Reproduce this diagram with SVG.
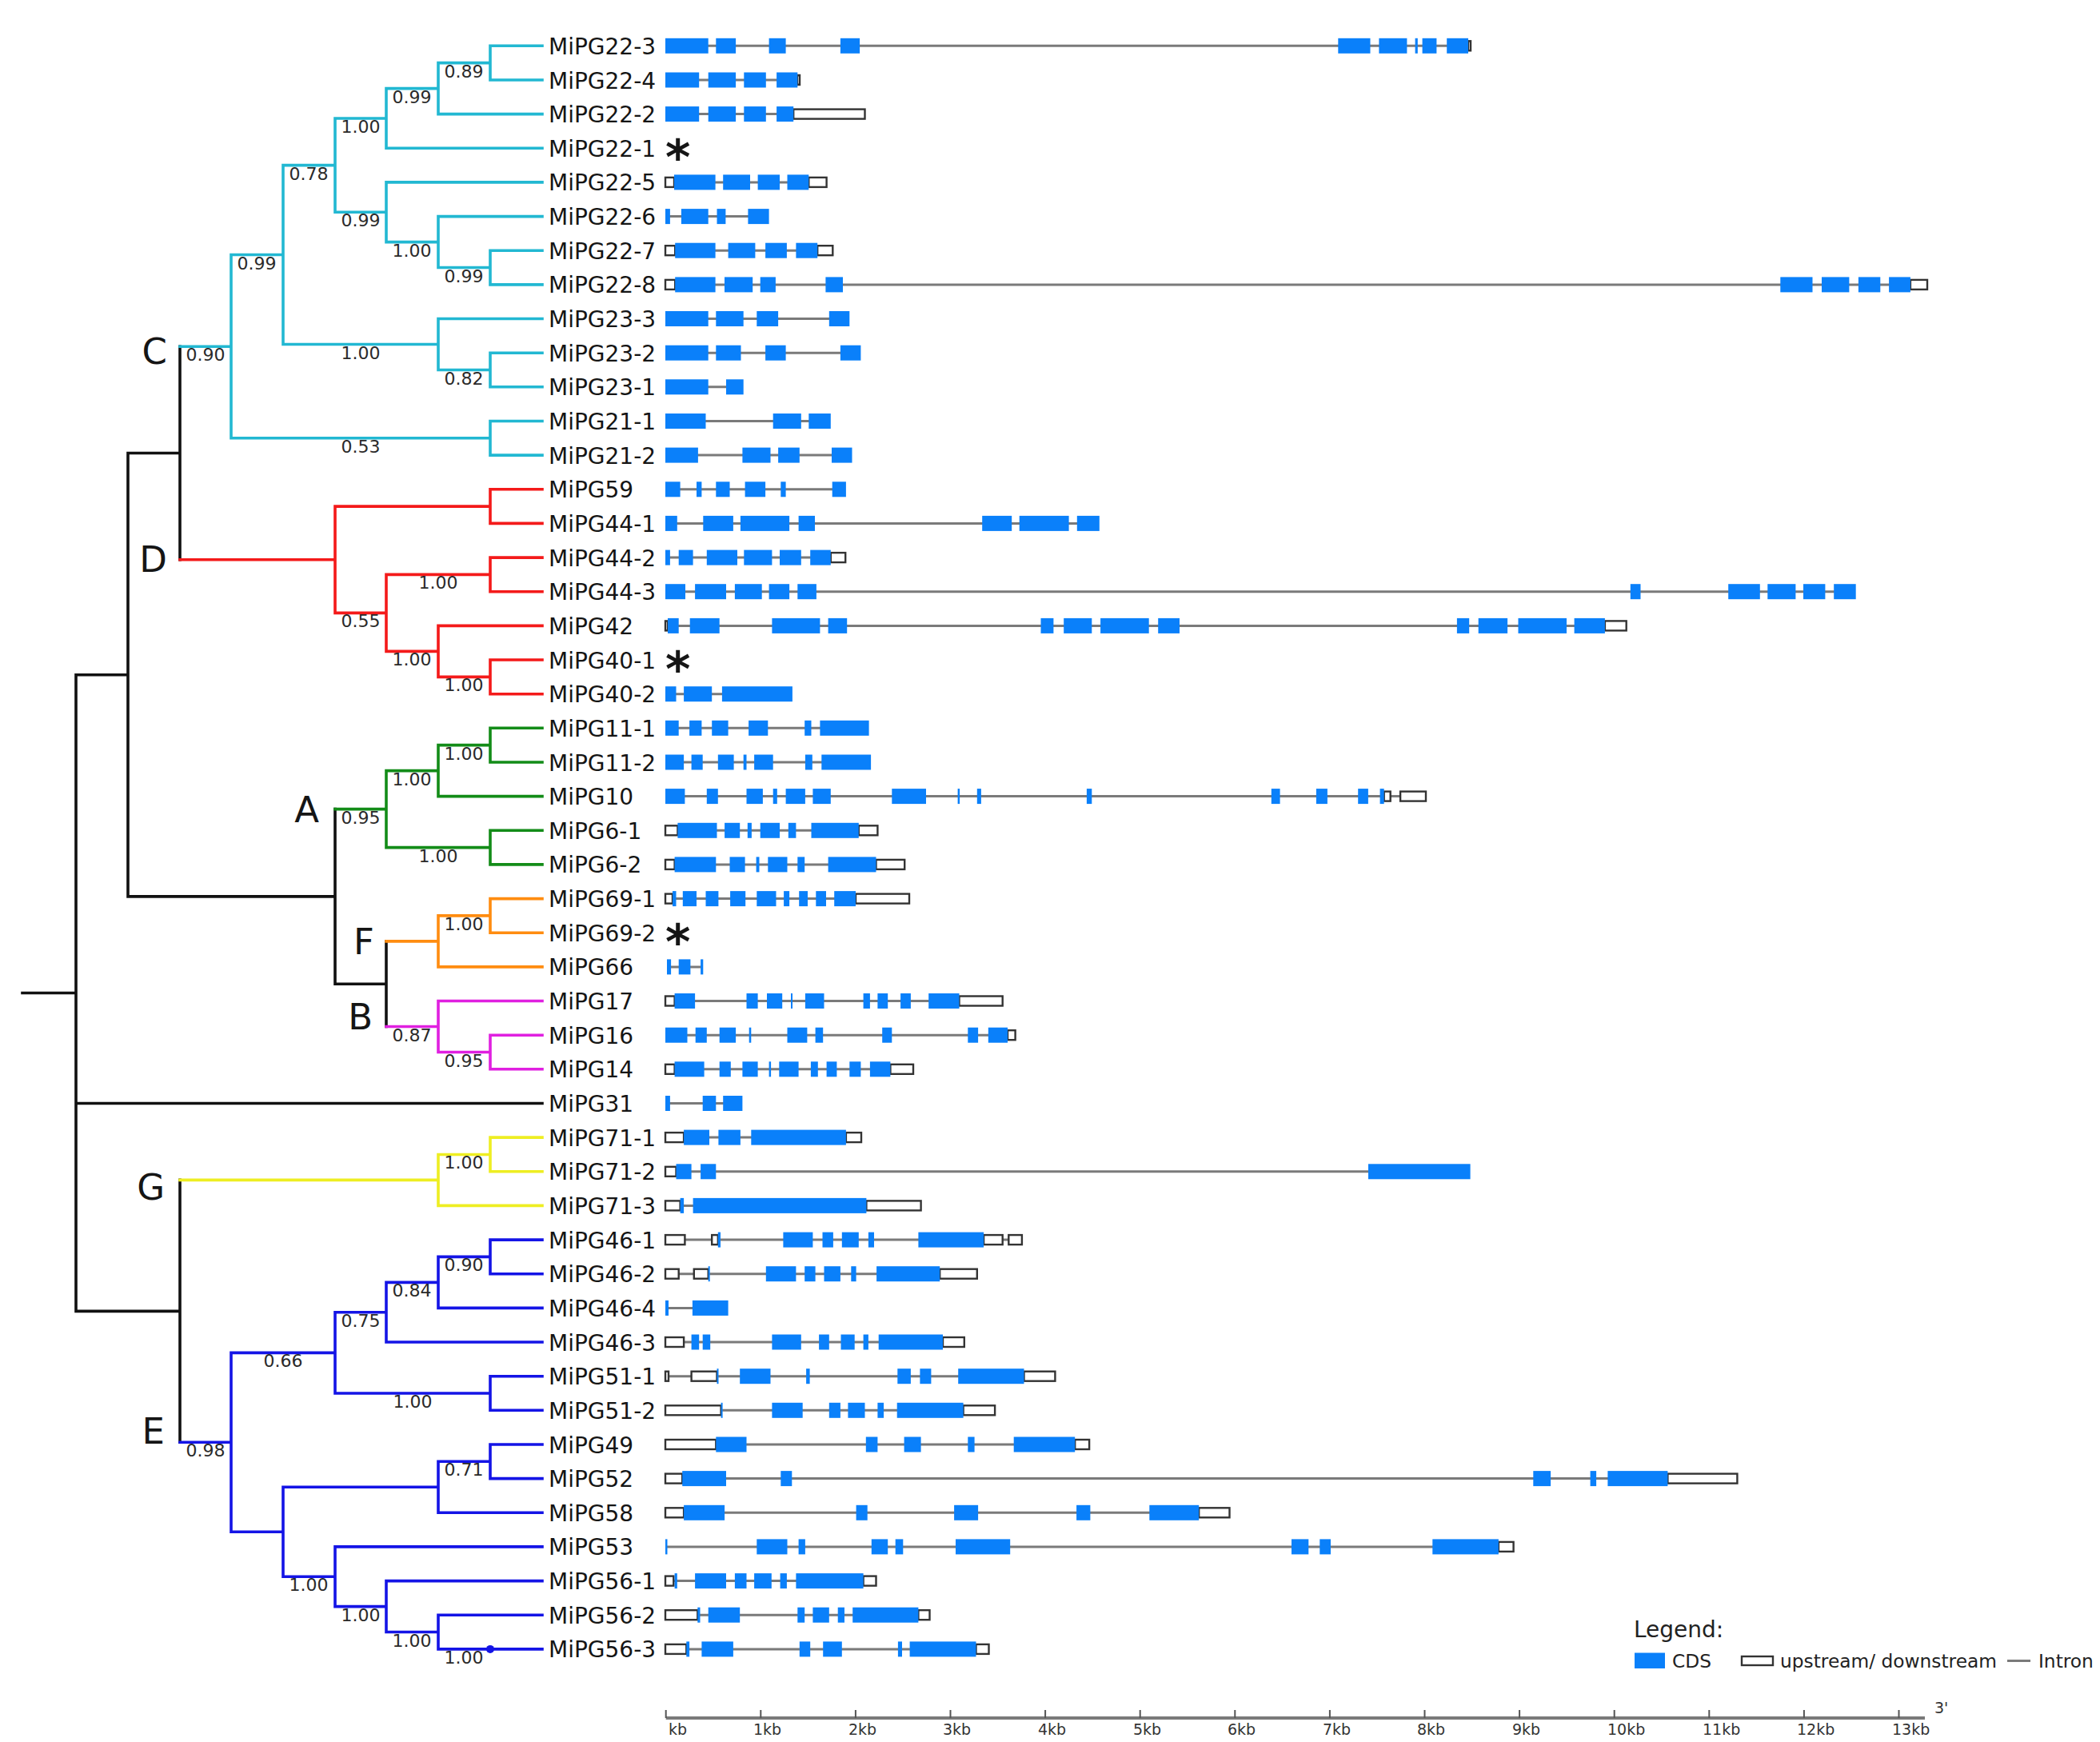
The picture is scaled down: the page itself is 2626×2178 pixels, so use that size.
<svg xmlns="http://www.w3.org/2000/svg" width="2626" height="2178" viewBox="0 0 2626 2178">
<style>
text{font-family:'DejaVu Sans',Verdana,sans-serif;fill:#151515}
.lf{font-size:28px}
.bs{font-size:22px;text-anchor:middle;fill:#2a2a2a}
.cl{font-size:45px;text-anchor:end}
.ast{font-size:60px;font-weight:bold}
.ax{font-size:19px;fill:#333}
.lg{font-size:23.3px;fill:#222}
.t{fill:none;stroke-width:3.6;stroke-linecap:square}
.k{stroke:#111}.cy{stroke:#22B8D2}.rd{stroke:#F41A1A}.gr{stroke:#138C18}.or{stroke:#FF8C10}.mg{stroke:#E020E0}.ye{stroke:#EEEE22}.bl{stroke:#1414E6}
.i{stroke:#7a7a7a;stroke-width:3}
.c{fill:#0A80FA}
.u{fill:#fff;stroke:#333;stroke-width:2.4}
</style>
<rect width="2626" height="2178" fill="#fff"/>

<g id="connectors">
<path class="t k" d="M28 1241.5H95M95 843.7V1639.35M95 843.7H160M160 566.5V1120.9M160 566.5H225M225 433.2V699.75M160 1120.9H419M419 1011.6V1230.2M419 1230.2H483M483 1176.9V1283.5M95 1379.5H678M95 1639.35H225M225 1475.4V1803.3"/>
<path class="t cy" d="M225 433.2H289M289 318.55V547.8M289 318.55H354M354 206.6V430.5M354 206.6H419M419 147.95V265.25M419 147.95H483M483 110.6V185.3M483 110.6H548M548 78.65V142.6M548 78.65H613M613 57.3V100M613 57.3H678M613 100H678M548 142.6H678M483 185.3H678M419 265.25H483M483 227.9V302.6M483 227.9H678M483 302.6H548M548 270.6V334.55M548 270.6H678M548 334.55H613M613 313.2V355.9M613 313.2H678M613 355.9H678M354 430.5H548M548 398.5V462.5M548 398.5H678M548 462.5H613M613 441.2V483.8M613 441.2H678M613 483.8H678M289 547.8H613M613 526.5V569.1M613 526.5H678M613 569.1H678"/>
<path class="t rd" d="M225 699.75H419M419 633.1V766.4M419 633.1H613M613 611.8V654.4M613 611.8H678M613 654.4H678M419 766.4H483M483 718.4V814.4M483 718.4H613M613 697.1V739.7M613 697.1H678M613 739.7H678M483 814.4H548M548 782.4V846.35M548 782.4H678M548 846.35H613M613 825V867.7M613 825H678M613 867.7H678"/>
<path class="t gr" d="M419 1011.6H483M483 963.6V1059.6M483 963.6H548M548 931.65V995.6M548 931.65H613M613 910.3V953M613 910.3H678M613 953H678M548 995.6H678M483 1059.6H613M613 1038.3V1080.9M613 1038.3H678M613 1080.9H678"/>
<path class="t or" d="M483 1176.9H548M548 1144.9V1208.9M548 1144.9H613M613 1123.6V1166.2M613 1123.6H678M613 1166.2H678M548 1208.9H678"/>
<path class="t mg" d="M483 1283.5H548M548 1251.5V1315.5M548 1251.5H678M548 1315.5H613M613 1294.2V1336.8M613 1294.2H678M613 1336.8H678"/>
<path class="t ye" d="M225 1475.4H548M548 1443.45V1507.4M548 1443.45H613M613 1422.1V1464.8M613 1422.1H678M613 1464.8H678M548 1507.4H678"/>
<path class="t bl" d="M225 1803.3H289M289 1691.35V1915.3M289 1691.35H419M419 1640.7V1742M419 1640.7H483M483 1603.4V1678M483 1603.4H548M548 1571.4V1635.4M548 1571.4H613M613 1550.1V1592.7M613 1550.1H678M613 1592.7H678M548 1635.4H678M483 1678H678M419 1742H613M613 1720.7V1763.3M613 1720.7H678M613 1763.3H678M289 1915.3H354M354 1859.3V1971.25M354 1859.3H548M548 1827.3V1891.3M548 1827.3H613M613 1806V1848.6M613 1806H678M613 1848.6H678M548 1891.3H678M354 1971.25H419M419 1933.9V2008.6M419 1933.9H678M419 2008.6H483M483 1976.6V2040.55M483 1976.6H678M483 2040.55H548M548 2019.2V2061.9M548 2019.2H678M548 2061.9H678"/>
<circle cx="613" cy="2061.9" r="5" fill="#1414E6"/>
</g>

<g id="support-values">
<text class="bs" x="580" y="96.6">0.89</text>
<text class="bs" x="515" y="128.6">0.99</text>
<text class="bs" x="451" y="166">1.00</text>
<text class="bs" x="386" y="224.6">0.78</text>
<text class="bs" x="451" y="283.2">0.99</text>
<text class="bs" x="515" y="320.6">1.00</text>
<text class="bs" x="580" y="352.5">0.99</text>
<text class="bs" x="321" y="336.5">0.99</text>
<text class="bs" x="451" y="448.5">1.00</text>
<text class="bs" x="580" y="480.5">0.82</text>
<text class="bs" x="451" y="565.8">0.53</text>
<text class="bs" x="257" y="451.2">0.90</text>
<text class="bs" x="548" y="736.4">1.00</text>
<text class="bs" x="451" y="784.4">0.55</text>
<text class="bs" x="515" y="832.4">1.00</text>
<text class="bs" x="580" y="864.3">1.00</text>
<text class="bs" x="580" y="949.6">1.00</text>
<text class="bs" x="515" y="981.6">1.00</text>
<text class="bs" x="548" y="1077.6">1.00</text>
<text class="bs" x="451" y="1029.6">0.95</text>
<text class="bs" x="580" y="1162.9">1.00</text>
<text class="bs" x="515" y="1301.5">0.87</text>
<text class="bs" x="580" y="1333.5">0.95</text>
<text class="bs" x="580" y="1461.4">1.00</text>
<text class="bs" x="580" y="1589.4">0.90</text>
<text class="bs" x="515" y="1621.4">0.84</text>
<text class="bs" x="451" y="1658.7">0.75</text>
<text class="bs" x="516" y="1760">1.00</text>
<text class="bs" x="354" y="1709.3">0.66</text>
<text class="bs" x="580" y="1845.3">0.71</text>
<text class="bs" x="257" y="1821.3">0.98</text>
<text class="bs" x="386" y="1989.2">1.00</text>
<text class="bs" x="451" y="2026.6">1.00</text>
<text class="bs" x="515" y="2058.5">1.00</text>
<text class="bs" x="580" y="2079.9">1.00</text>
</g>

<g id="clade-labels">
<g id="clade-C"><text class="cl" x="209" y="455">C</text></g>
<g id="clade-D"><text class="cl" x="209" y="715">D</text></g>
<g id="clade-A"><text class="cl" x="399" y="1028">A</text></g>
<g id="clade-F"><text class="cl" x="468" y="1193">F</text></g>
<g id="clade-B"><text class="cl" x="466" y="1287">B</text></g>
<g id="clade-G"><text class="cl" x="206" y="1500">G</text></g>
<g id="clade-E"><text class="cl" x="206" y="1805">E</text></g>
</g>

<g id="leaves">
<g id="MiPG22-3" transform="translate(0,57.3)"><text class="lf" x="686" y="10.5">MiPG22-3</text><line class="i" x1="832" x2="1838" y1="0" y2="0"/><rect class="u" x="1836" y="-6" width="3" height="12"/><rect class="c" x="832" y="-9.5" width="53.7" height="19"/><rect class="c" x="895.3" y="-9.5" width="24.8" height="19"/><rect class="c" x="961.6" y="-9.5" width="21" height="19"/><rect class="c" x="1050.9" y="-9.5" width="24.2" height="19"/><rect class="c" x="1673.3" y="-9.5" width="40.2" height="19"/><rect class="c" x="1724.4" y="-9.5" width="35" height="19"/><rect class="c" x="1769.6" y="-9.5" width="3.2" height="19"/><rect class="c" x="1778.6" y="-9.5" width="17.8" height="19"/><rect class="c" x="1809.2" y="-9.5" width="26.8" height="19"/></g>
<g id="MiPG22-4" transform="translate(0,100)"><text class="lf" x="686" y="10.5">MiPG22-4</text><line class="i" x1="832" x2="999" y1="0" y2="0"/><rect class="u" x="997" y="-6" width="3" height="12"/><rect class="c" x="832" y="-9.5" width="42.2" height="19"/><rect class="c" x="885.7" y="-9.5" width="34.4" height="19"/><rect class="c" x="930.3" y="-9.5" width="27.5" height="19"/><rect class="c" x="971.1" y="-9.5" width="26.2" height="19"/></g>
<g id="MiPG22-2" transform="translate(0,142.6)"><text class="lf" x="686" y="10.5">MiPG22-2</text><line class="i" x1="832" x2="1081" y1="0" y2="0"/><rect class="u" x="992.2" y="-6" width="89.3" height="12"/><rect class="c" x="832" y="-9.5" width="42.2" height="19"/><rect class="c" x="885.7" y="-9.5" width="34.4" height="19"/><rect class="c" x="930.3" y="-9.5" width="27.5" height="19"/><rect class="c" x="971.1" y="-9.5" width="21.1" height="19"/></g>
<g id="MiPG22-1" transform="translate(0,185.3)"><text class="lf" x="686" y="10.5">MiPG22-1</text><text class="ast" x="832" y="33">*</text></g>
<g id="MiPG22-5" transform="translate(0,227.9)"><text class="lf" x="686" y="10.5">MiPG22-5</text><line class="i" x1="832" x2="1033" y1="0" y2="0"/><rect class="u" x="832" y="-6" width="11" height="12"/><rect class="u" x="1011.3" y="-6" width="22.3" height="12"/><rect class="c" x="843" y="-9.5" width="51.6" height="19"/><rect class="c" x="904.2" y="-9.5" width="33.8" height="19"/><rect class="c" x="947.6" y="-9.5" width="27.4" height="19"/><rect class="c" x="984.5" y="-9.5" width="26.8" height="19"/></g>
<g id="MiPG22-6" transform="translate(0,270.6)"><text class="lf" x="686" y="10.5">MiPG22-6</text><line class="i" x1="832" x2="961" y1="0" y2="0"/><rect class="c" x="832" y="-9.5" width="5.9" height="19"/><rect class="c" x="851.9" y="-9.5" width="33.8" height="19"/><rect class="c" x="896.5" y="-9.5" width="10.9" height="19"/><rect class="c" x="935.4" y="-9.5" width="26.2" height="19"/></g>
<g id="MiPG22-7" transform="translate(0,313.2)"><text class="lf" x="686" y="10.5">MiPG22-7</text><line class="i" x1="832" x2="1041" y1="0" y2="0"/><rect class="u" x="832" y="-6" width="12.2" height="12"/><rect class="u" x="1022.2" y="-6" width="19.1" height="12"/><rect class="c" x="844.2" y="-9.5" width="50.4" height="19"/><rect class="c" x="910.6" y="-9.5" width="33.8" height="19"/><rect class="c" x="957.1" y="-9.5" width="26.8" height="19"/><rect class="c" x="995.4" y="-9.5" width="26.8" height="19"/></g>
<g id="MiPG22-8" transform="translate(0,355.9)"><text class="lf" x="686" y="10.5">MiPG22-8</text><line class="i" x1="832" x2="2410" y1="0" y2="0"/><rect class="u" x="832" y="-6" width="12.2" height="12"/><rect class="u" x="2388.9" y="-6" width="21.1" height="12"/><rect class="c" x="844.2" y="-9.5" width="50.4" height="19"/><rect class="c" x="906" y="-9.5" width="35.2" height="19"/><rect class="c" x="950.7" y="-9.5" width="19.2" height="19"/><rect class="c" x="1032.4" y="-9.5" width="21.6" height="19"/><rect class="c" x="2226.3" y="-9.5" width="40.2" height="19"/><rect class="c" x="2278" y="-9.5" width="34.4" height="19"/><rect class="c" x="2323.9" y="-9.5" width="27.4" height="19"/><rect class="c" x="2362.1" y="-9.5" width="26.8" height="19"/></g>
<g id="MiPG23-3" transform="translate(0,398.5)"><text class="lf" x="686" y="10.5">MiPG23-3</text><line class="i" x1="832" x2="1062" y1="0" y2="0"/><rect class="c" x="832" y="-9.5" width="53.7" height="19"/><rect class="c" x="895.3" y="-9.5" width="34.4" height="19"/><rect class="c" x="946.3" y="-9.5" width="26.8" height="19"/><rect class="c" x="1036.8" y="-9.5" width="25.5" height="19"/></g>
<g id="MiPG23-2" transform="translate(0,441.2)"><text class="lf" x="686" y="10.5">MiPG23-2</text><line class="i" x1="832" x2="1076" y1="0" y2="0"/><rect class="c" x="832" y="-9.5" width="53.7" height="19"/><rect class="c" x="895.3" y="-9.5" width="31.2" height="19"/><rect class="c" x="957.1" y="-9.5" width="25.5" height="19"/><rect class="c" x="1050.9" y="-9.5" width="25.5" height="19"/></g>
<g id="MiPG23-1" transform="translate(0,483.8)"><text class="lf" x="686" y="10.5">MiPG23-1</text><line class="i" x1="832" x2="929" y1="0" y2="0"/><rect class="c" x="832" y="-9.5" width="53.7" height="19"/><rect class="c" x="908" y="-9.5" width="21.7" height="19"/></g>
<g id="MiPG21-1" transform="translate(0,526.5)"><text class="lf" x="686" y="10.5">MiPG21-1</text><line class="i" x1="832" x2="1038" y1="0" y2="0"/><rect class="c" x="832" y="-9.5" width="50.5" height="19"/><rect class="c" x="966.7" y="-9.5" width="35.1" height="19"/><rect class="c" x="1011.3" y="-9.5" width="27.5" height="19"/></g>
<g id="MiPG21-2" transform="translate(0,569.1)"><text class="lf" x="686" y="10.5">MiPG21-2</text><line class="i" x1="832" x2="1065" y1="0" y2="0"/><rect class="c" x="832" y="-9.5" width="40.9" height="19"/><rect class="c" x="928.4" y="-9.5" width="35.1" height="19"/><rect class="c" x="973.1" y="-9.5" width="26.7" height="19"/><rect class="c" x="1040" y="-9.5" width="25.5" height="19"/></g>
<g id="MiPG59" transform="translate(0,611.8)"><text class="lf" x="686" y="10.5">MiPG59</text><line class="i" x1="832" x2="1057" y1="0" y2="0"/><rect class="c" x="832" y="-9.5" width="18.6" height="19"/><rect class="c" x="871" y="-9.5" width="6.4" height="19"/><rect class="c" x="895.3" y="-9.5" width="17.2" height="19"/><rect class="c" x="931.6" y="-9.5" width="25.5" height="19"/><rect class="c" x="976.3" y="-9.5" width="6.3" height="19"/><rect class="c" x="1040.7" y="-9.5" width="17.2" height="19"/></g>
<g id="MiPG44-1" transform="translate(0,654.4)"><text class="lf" x="686" y="10.5">MiPG44-1</text><line class="i" x1="832" x2="1374" y1="0" y2="0"/><rect class="c" x="832" y="-9.5" width="14.8" height="19"/><rect class="c" x="879.3" y="-9.5" width="37.6" height="19"/><rect class="c" x="925.9" y="-9.5" width="61.2" height="19"/><rect class="c" x="998.6" y="-9.5" width="20.4" height="19"/><rect class="c" x="1228.2" y="-9.5" width="37" height="19"/><rect class="c" x="1274.7" y="-9.5" width="61.9" height="19"/><rect class="c" x="1346.8" y="-9.5" width="28" height="19"/></g>
<g id="MiPG44-2" transform="translate(0,697.1)"><text class="lf" x="686" y="10.5">MiPG44-2</text><line class="i" x1="832" x2="1057" y1="0" y2="0"/><rect class="u" x="1038.8" y="-6" width="18.4" height="12"/><rect class="c" x="832" y="-9.5" width="5.9" height="19"/><rect class="c" x="848.7" y="-9.5" width="17.9" height="19"/><rect class="c" x="883.8" y="-9.5" width="38.2" height="19"/><rect class="c" x="930.3" y="-9.5" width="35.1" height="19"/><rect class="c" x="975" y="-9.5" width="26.8" height="19"/><rect class="c" x="1013.2" y="-9.5" width="25.6" height="19"/></g>
<g id="MiPG44-3" transform="translate(0,739.7)"><text class="lf" x="686" y="10.5">MiPG44-3</text><line class="i" x1="832" x2="2320" y1="0" y2="0"/><rect class="c" x="832" y="-9.5" width="25" height="19"/><rect class="c" x="869.1" y="-9.5" width="38.9" height="19"/><rect class="c" x="918.9" y="-9.5" width="33.8" height="19"/><rect class="c" x="961.6" y="-9.5" width="25.5" height="19"/><rect class="c" x="997.3" y="-9.5" width="23.6" height="19"/><rect class="c" x="2038.8" y="-9.5" width="12.7" height="19"/><rect class="c" x="2161.2" y="-9.5" width="39.6" height="19"/><rect class="c" x="2210.3" y="-9.5" width="35.1" height="19"/><rect class="c" x="2255" y="-9.5" width="27.4" height="19"/><rect class="c" x="2293.2" y="-9.5" width="27.5" height="19"/></g>
<g id="MiPG42" transform="translate(0,782.4)"><text class="lf" x="686" y="10.5">MiPG42</text><line class="i" x1="833" x2="2033" y1="0" y2="0"/><rect class="u" x="832" y="-6" width="3" height="12"/><rect class="u" x="2006.9" y="-6" width="26.8" height="12"/><rect class="c" x="835" y="-9.5" width="13.7" height="19"/><rect class="c" x="862.7" y="-9.5" width="37" height="19"/><rect class="c" x="965.4" y="-9.5" width="60" height="19"/><rect class="c" x="1035.6" y="-9.5" width="23.6" height="19"/><rect class="c" x="1301.5" y="-9.5" width="15.9" height="19"/><rect class="c" x="1330.2" y="-9.5" width="35.1" height="19"/><rect class="c" x="1376.1" y="-9.5" width="60.6" height="19"/><rect class="c" x="1448.2" y="-9.5" width="26.8" height="19"/><rect class="c" x="1821.9" y="-9.5" width="15.3" height="19"/><rect class="c" x="1848.7" y="-9.5" width="36.4" height="19"/><rect class="c" x="1898.5" y="-9.5" width="60.5" height="19"/><rect class="c" x="1968.6" y="-9.5" width="38.3" height="19"/></g>
<g id="MiPG40-1" transform="translate(0,825)"><text class="lf" x="686" y="10.5">MiPG40-1</text><text class="ast" x="832" y="33">*</text></g>
<g id="MiPG40-2" transform="translate(0,867.7)"><text class="lf" x="686" y="10.5">MiPG40-2</text><line class="i" x1="832" x2="990" y1="0" y2="0"/><rect class="c" x="832" y="-9.5" width="13.5" height="19"/><rect class="c" x="855.1" y="-9.5" width="35.1" height="19"/><rect class="c" x="902.9" y="-9.5" width="88" height="19"/></g>
<g id="MiPG11-1" transform="translate(0,910.3)"><text class="lf" x="686" y="10.5">MiPG11-1</text><line class="i" x1="832" x2="1086" y1="0" y2="0"/><rect class="c" x="832" y="-9.5" width="16.7" height="19"/><rect class="c" x="862.1" y="-9.5" width="15.3" height="19"/><rect class="c" x="890.2" y="-9.5" width="20.4" height="19"/><rect class="c" x="936.1" y="-9.5" width="24.2" height="19"/><rect class="c" x="1006.2" y="-9.5" width="8.3" height="19"/><rect class="c" x="1025.4" y="-9.5" width="61.2" height="19"/></g>
<g id="MiPG11-2" transform="translate(0,953)"><text class="lf" x="686" y="10.5">MiPG11-2</text><line class="i" x1="832" x2="1089" y1="0" y2="0"/><rect class="c" x="832" y="-9.5" width="23.1" height="19"/><rect class="c" x="864.6" y="-9.5" width="14.1" height="19"/><rect class="c" x="897.8" y="-9.5" width="19.8" height="19"/><rect class="c" x="929.7" y="-9.5" width="3.8" height="19"/><rect class="c" x="943.1" y="-9.5" width="23.6" height="19"/><rect class="c" x="1006.9" y="-9.5" width="8.9" height="19"/><rect class="c" x="1027.3" y="-9.5" width="61.8" height="19"/></g>
<g id="MiPG10" transform="translate(0,995.6)"><text class="lf" x="686" y="10.5">MiPG10</text><line class="i" x1="832" x2="1782" y1="0" y2="0"/><rect class="u" x="1730.7" y="-6" width="8" height="12"/><rect class="u" x="1751.1" y="-6" width="31.9" height="12"/><rect class="c" x="832" y="-9.5" width="24.4" height="19"/><rect class="c" x="883.8" y="-9.5" width="14" height="19"/><rect class="c" x="933.5" y="-9.5" width="20.4" height="19"/><rect class="c" x="966.7" y="-9.5" width="5.1" height="19"/><rect class="c" x="982.6" y="-9.5" width="24.3" height="19"/><rect class="c" x="1016.4" y="-9.5" width="22.4" height="19"/><rect class="c" x="1115.3" y="-9.5" width="42.7" height="19"/><rect class="c" x="1197.6" y="-9.5" width="2.5" height="19"/><rect class="c" x="1221.8" y="-9.5" width="5.1" height="19"/><rect class="c" x="1358.9" y="-9.5" width="6.4" height="19"/><rect class="c" x="1589.8" y="-9.5" width="10.8" height="19"/><rect class="c" x="1645.9" y="-9.5" width="14" height="19"/><rect class="c" x="1698.2" y="-9.5" width="12.7" height="19"/><rect class="c" x="1725.6" y="-9.5" width="5.1" height="19"/></g>
<g id="MiPG6-1" transform="translate(0,1038.3)"><text class="lf" x="686" y="10.5">MiPG6-1</text><line class="i" x1="832" x2="1097" y1="0" y2="0"/><rect class="u" x="832" y="-6" width="15.4" height="12"/><rect class="u" x="1073.8" y="-6" width="23.6" height="12"/><rect class="c" x="847.4" y="-9.5" width="49.1" height="19"/><rect class="c" x="906.1" y="-9.5" width="19.1" height="19"/><rect class="c" x="934.8" y="-9.5" width="5.1" height="19"/><rect class="c" x="950.7" y="-9.5" width="24.3" height="19"/><rect class="c" x="985.8" y="-9.5" width="9.6" height="19"/><rect class="c" x="1014.5" y="-9.5" width="59.3" height="19"/></g>
<g id="MiPG6-2" transform="translate(0,1080.9)"><text class="lf" x="686" y="10.5">MiPG6-2</text><line class="i" x1="832" x2="1131" y1="0" y2="0"/><rect class="u" x="832" y="-6" width="11.6" height="12"/><rect class="u" x="1095.5" y="-6" width="35.7" height="12"/><rect class="c" x="843.6" y="-9.5" width="51.7" height="19"/><rect class="c" x="912.5" y="-9.5" width="19.1" height="19"/><rect class="c" x="945.6" y="-9.5" width="3.9" height="19"/><rect class="c" x="960.3" y="-9.5" width="24.2" height="19"/><rect class="c" x="997.3" y="-9.5" width="8.9" height="19"/><rect class="c" x="1035.6" y="-9.5" width="59.9" height="19"/></g>
<g id="MiPG69-1" transform="translate(0,1123.6)"><text class="lf" x="686" y="10.5">MiPG69-1</text><line class="i" x1="832" x2="1137" y1="0" y2="0"/><rect class="u" x="832" y="-6" width="9" height="12"/><rect class="u" x="1070" y="-6" width="67" height="12"/><rect class="c" x="841" y="-9.5" width="4.5" height="19"/><rect class="c" x="853.8" y="-9.5" width="17.2" height="19"/><rect class="c" x="882.5" y="-9.5" width="15.9" height="19"/><rect class="c" x="913.1" y="-9.5" width="19.1" height="19"/><rect class="c" x="946.3" y="-9.5" width="24.2" height="19"/><rect class="c" x="980.1" y="-9.5" width="7" height="19"/><rect class="c" x="999.2" y="-9.5" width="10.8" height="19"/><rect class="c" x="1020.3" y="-9.5" width="12.7" height="19"/><rect class="c" x="1043.2" y="-9.5" width="26.8" height="19"/></g>
<g id="MiPG69-2" transform="translate(0,1166.2)"><text class="lf" x="686" y="10.5">MiPG69-2</text><text class="ast" x="832" y="33">*</text></g>
<g id="MiPG66" transform="translate(0,1208.9)"><text class="lf" x="686" y="10.5">MiPG66</text><line class="i" x1="834" x2="879" y1="0" y2="0"/><rect class="c" x="834" y="-9.5" width="5.1" height="19"/><rect class="c" x="848.7" y="-9.5" width="14.7" height="19"/><rect class="c" x="876.1" y="-9.5" width="3.2" height="19"/></g>
<g id="MiPG17" transform="translate(0,1251.5)"><text class="lf" x="686" y="10.5">MiPG17</text><line class="i" x1="832" x2="1253" y1="0" y2="0"/><rect class="u" x="832" y="-6" width="11.6" height="12"/><rect class="u" x="1199.5" y="-6" width="54.2" height="12"/><rect class="c" x="843.6" y="-9.5" width="25.5" height="19"/><rect class="c" x="933.5" y="-9.5" width="14.1" height="19"/><rect class="c" x="959" y="-9.5" width="19.2" height="19"/><rect class="c" x="989" y="-9.5" width="2" height="19"/><rect class="c" x="1006.9" y="-9.5" width="23.6" height="19"/><rect class="c" x="1079.6" y="-9.5" width="8.3" height="19"/><rect class="c" x="1097.4" y="-9.5" width="12.8" height="19"/><rect class="c" x="1126.1" y="-9.5" width="12.8" height="19"/><rect class="c" x="1161.2" y="-9.5" width="38.3" height="19"/></g>
<g id="MiPG16" transform="translate(0,1294.2)"><text class="lf" x="686" y="10.5">MiPG16</text><line class="i" x1="832" x2="1269" y1="0" y2="0"/><rect class="u" x="1260" y="-6" width="9.6" height="12"/><rect class="c" x="832" y="-9.5" width="27.5" height="19"/><rect class="c" x="869.7" y="-9.5" width="14.1" height="19"/><rect class="c" x="899.7" y="-9.5" width="20.4" height="19"/><rect class="c" x="936.7" y="-9.5" width="2.6" height="19"/><rect class="c" x="984.5" y="-9.5" width="24.9" height="19"/><rect class="c" x="1019.6" y="-9.5" width="9.6" height="19"/><rect class="c" x="1103.2" y="-9.5" width="12.1" height="19"/><rect class="c" x="1210.3" y="-9.5" width="12.8" height="19"/><rect class="c" x="1235.8" y="-9.5" width="24.2" height="19"/></g>
<g id="MiPG14" transform="translate(0,1336.8)"><text class="lf" x="686" y="10.5">MiPG14</text><line class="i" x1="832" x2="1142" y1="0" y2="0"/><rect class="u" x="832" y="-6" width="11.6" height="12"/><rect class="u" x="1113.4" y="-6" width="28.6" height="12"/><rect class="c" x="843.6" y="-9.5" width="37" height="19"/><rect class="c" x="899.7" y="-9.5" width="14.1" height="19"/><rect class="c" x="928.4" y="-9.5" width="19.2" height="19"/><rect class="c" x="961.6" y="-9.5" width="2.5" height="19"/><rect class="c" x="974.3" y="-9.5" width="24.3" height="19"/><rect class="c" x="1013.9" y="-9.5" width="8.9" height="19"/><rect class="c" x="1033.6" y="-9.5" width="12.8" height="19"/><rect class="c" x="1062.3" y="-9.5" width="14.1" height="19"/><rect class="c" x="1087.9" y="-9.5" width="25.5" height="19"/></g>
<g id="MiPG31" transform="translate(0,1379.5)"><text class="lf" x="686" y="10.5">MiPG31</text><line class="i" x1="832" x2="928" y1="0" y2="0"/><rect class="c" x="832" y="-9.5" width="5.9" height="19"/><rect class="c" x="878.7" y="-9.5" width="16.6" height="19"/><rect class="c" x="904.2" y="-9.5" width="24.2" height="19"/></g>
<g id="MiPG71-1" transform="translate(0,1422.1)"><text class="lf" x="686" y="10.5">MiPG71-1</text><line class="i" x1="832" x2="1077" y1="0" y2="0"/><rect class="u" x="832" y="-6" width="23.1" height="12"/><rect class="u" x="1057.9" y="-6" width="19.1" height="12"/><rect class="c" x="855.1" y="-9.5" width="31.9" height="19"/><rect class="c" x="898.4" y="-9.5" width="27.5" height="19"/><rect class="c" x="939.3" y="-9.5" width="118.6" height="19"/></g>
<g id="MiPG71-2" transform="translate(0,1464.8)"><text class="lf" x="686" y="10.5">MiPG71-2</text><line class="i" x1="832" x2="1838" y1="0" y2="0"/><rect class="u" x="832" y="-6" width="13.5" height="12"/><rect class="c" x="845.5" y="-9.5" width="19.1" height="19"/><rect class="c" x="876.1" y="-9.5" width="19.2" height="19"/><rect class="c" x="1711" y="-9.5" width="127.6" height="19"/></g>
<g id="MiPG71-3" transform="translate(0,1507.4)"><text class="lf" x="686" y="10.5">MiPG71-3</text><line class="i" x1="832" x2="1151" y1="0" y2="0"/><rect class="u" x="832" y="-6" width="18.6" height="12"/><rect class="u" x="1083.4" y="-6" width="68.2" height="12"/><rect class="c" x="850.6" y="-9.5" width="4.5" height="19"/><rect class="c" x="866.6" y="-9.5" width="216.8" height="19"/></g>
<g id="MiPG46-1" transform="translate(0,1550.1)"><text class="lf" x="686" y="10.5">MiPG46-1</text><line class="i" x1="832" x2="1277" y1="0" y2="0"/><rect class="u" x="832" y="-6" width="24.4" height="12"/><rect class="u" x="890.2" y="-6" width="7.6" height="12"/><rect class="u" x="1230.1" y="-6" width="23.6" height="12"/><rect class="u" x="1261.3" y="-6" width="16.6" height="12"/><rect class="c" x="897.8" y="-9.5" width="3.2" height="19"/><rect class="c" x="979.4" y="-9.5" width="37" height="19"/><rect class="c" x="1028.5" y="-9.5" width="13.4" height="19"/><rect class="c" x="1052.8" y="-9.5" width="21" height="19"/><rect class="c" x="1085.9" y="-9.5" width="7.1" height="19"/><rect class="c" x="1148.4" y="-9.5" width="81.7" height="19"/></g>
<g id="MiPG46-2" transform="translate(0,1592.7)"><text class="lf" x="686" y="10.5">MiPG46-2</text><line class="i" x1="832" x2="1221" y1="0" y2="0"/><rect class="u" x="832" y="-6" width="16.7" height="12"/><rect class="u" x="867.8" y="-6" width="17.9" height="12"/><rect class="u" x="1175.2" y="-6" width="46.6" height="12"/><rect class="c" x="885.7" y="-9.5" width="2" height="19"/><rect class="c" x="957.8" y="-9.5" width="37.6" height="19"/><rect class="c" x="1006.2" y="-9.5" width="13.4" height="19"/><rect class="c" x="1030.5" y="-9.5" width="20.4" height="19"/><rect class="c" x="1064.3" y="-9.5" width="6.3" height="19"/><rect class="c" x="1096.1" y="-9.5" width="79.1" height="19"/></g>
<g id="MiPG46-4" transform="translate(0,1635.4)"><text class="lf" x="686" y="10.5">MiPG46-4</text><line class="i" x1="832" x2="910" y1="0" y2="0"/><rect class="c" x="832" y="-9.5" width="4" height="19"/><rect class="c" x="865.9" y="-9.5" width="44.7" height="19"/></g>
<g id="MiPG46-3" transform="translate(0,1678)"><text class="lf" x="686" y="10.5">MiPG46-3</text><line class="i" x1="832" x2="1205" y1="0" y2="0"/><rect class="u" x="832" y="-6" width="23.1" height="12"/><rect class="u" x="1179" y="-6" width="26.8" height="12"/><rect class="c" x="864.6" y="-9.5" width="9.6" height="19"/><rect class="c" x="878.7" y="-9.5" width="9.5" height="19"/><rect class="c" x="965.4" y="-9.5" width="36.4" height="19"/><rect class="c" x="1024.1" y="-9.5" width="12.7" height="19"/><rect class="c" x="1051.5" y="-9.5" width="17.2" height="19"/><rect class="c" x="1079.6" y="-9.5" width="6.3" height="19"/><rect class="c" x="1098.7" y="-9.5" width="80.3" height="19"/></g>
<g id="MiPG51-1" transform="translate(0,1720.7)"><text class="lf" x="686" y="10.5">MiPG51-1</text><line class="i" x1="832" x2="1319" y1="0" y2="0"/><rect class="u" x="832" y="-6" width="4" height="12"/><rect class="u" x="864.6" y="-6" width="31.9" height="12"/><rect class="u" x="1280.5" y="-6" width="38.9" height="12"/><rect class="c" x="896.5" y="-9.5" width="2" height="19"/><rect class="c" x="925.2" y="-9.5" width="38.3" height="19"/><rect class="c" x="1008.1" y="-9.5" width="4.5" height="19"/><rect class="c" x="1122.3" y="-9.5" width="16.6" height="19"/><rect class="c" x="1150.4" y="-9.5" width="14" height="19"/><rect class="c" x="1198.2" y="-9.5" width="82.3" height="19"/></g>
<g id="MiPG51-2" transform="translate(0,1763.3)"><text class="lf" x="686" y="10.5">MiPG51-2</text><line class="i" x1="832" x2="1244" y1="0" y2="0"/><rect class="u" x="832" y="-6" width="69.6" height="12"/><rect class="u" x="1204.6" y="-6" width="39.5" height="12"/><rect class="c" x="901.6" y="-9.5" width="2" height="19"/><rect class="c" x="965.4" y="-9.5" width="38.3" height="19"/><rect class="c" x="1036.8" y="-9.5" width="14.1" height="19"/><rect class="c" x="1060.4" y="-9.5" width="21.1" height="19"/><rect class="c" x="1097.4" y="-9.5" width="7.7" height="19"/><rect class="c" x="1121.7" y="-9.5" width="82.9" height="19"/></g>
<g id="MiPG49" transform="translate(0,1806)"><text class="lf" x="686" y="10.5">MiPG49</text><line class="i" x1="832" x2="1362" y1="0" y2="0"/><rect class="u" x="832" y="-6" width="63.3" height="12"/><rect class="u" x="1344.2" y="-6" width="17.9" height="12"/><rect class="c" x="895.3" y="-9.5" width="38.2" height="19"/><rect class="c" x="1082.8" y="-9.5" width="14.6" height="19"/><rect class="c" x="1130.6" y="-9.5" width="21" height="19"/><rect class="c" x="1210.3" y="-9.5" width="8.3" height="19"/><rect class="c" x="1267.7" y="-9.5" width="76.5" height="19"/></g>
<g id="MiPG52" transform="translate(0,1848.6)"><text class="lf" x="686" y="10.5">MiPG52</text><line class="i" x1="832" x2="2172" y1="0" y2="0"/><rect class="u" x="832" y="-6" width="21.2" height="12"/><rect class="u" x="2085.4" y="-6" width="87" height="12"/><rect class="c" x="853.2" y="-9.5" width="54.8" height="19"/><rect class="c" x="976.3" y="-9.5" width="14" height="19"/><rect class="c" x="1917.3" y="-9.5" width="21.8" height="19"/><rect class="c" x="1988.6" y="-9.5" width="7.5" height="19"/><rect class="c" x="2010.4" y="-9.5" width="75" height="19"/></g>
<g id="MiPG58" transform="translate(0,1891.3)"><text class="lf" x="686" y="10.5">MiPG58</text><line class="i" x1="832" x2="1537" y1="0" y2="0"/><rect class="u" x="832" y="-6" width="23.1" height="12"/><rect class="u" x="1499.2" y="-6" width="38.3" height="12"/><rect class="c" x="855.1" y="-9.5" width="51" height="19"/><rect class="c" x="1070.6" y="-9.5" width="14.1" height="19"/><rect class="c" x="1193.1" y="-9.5" width="30" height="19"/><rect class="c" x="1346.1" y="-9.5" width="17.3" height="19"/><rect class="c" x="1437.3" y="-9.5" width="61.9" height="19"/></g>
<g id="MiPG53" transform="translate(0,1933.9)"><text class="lf" x="686" y="10.5">MiPG53</text><line class="i" x1="832" x2="1892" y1="0" y2="0"/><rect class="u" x="1873.9" y="-6" width="18.7" height="12"/><rect class="c" x="832" y="-9.5" width="2.5" height="19"/><rect class="c" x="946.3" y="-9.5" width="38.2" height="19"/><rect class="c" x="998.6" y="-9.5" width="8.3" height="19"/><rect class="c" x="1089.8" y="-9.5" width="20.4" height="19"/><rect class="c" x="1119.7" y="-9.5" width="9.6" height="19"/><rect class="c" x="1195" y="-9.5" width="68.2" height="19"/><rect class="c" x="1615" y="-9.5" width="21.3" height="19"/><rect class="c" x="1650.3" y="-9.5" width="13.7" height="19"/><rect class="c" x="1791.3" y="-9.5" width="82.6" height="19"/></g>
<g id="MiPG56-1" transform="translate(0,1976.6)"><text class="lf" x="686" y="10.5">MiPG56-1</text><line class="i" x1="832" x2="1095" y1="0" y2="0"/><rect class="u" x="832" y="-6" width="10.3" height="12"/><rect class="u" x="1079.6" y="-6" width="15.9" height="12"/><rect class="c" x="843.6" y="-9.5" width="3.2" height="19"/><rect class="c" x="869.1" y="-9.5" width="38.9" height="19"/><rect class="c" x="918.9" y="-9.5" width="14.6" height="19"/><rect class="c" x="943.1" y="-9.5" width="21.7" height="19"/><rect class="c" x="975.6" y="-9.5" width="8.3" height="19"/><rect class="c" x="995.4" y="-9.5" width="84.2" height="19"/></g>
<g id="MiPG56-2" transform="translate(0,2019.2)"><text class="lf" x="686" y="10.5">MiPG56-2</text><line class="i" x1="832" x2="1162" y1="0" y2="0"/><rect class="u" x="832" y="-6" width="40.3" height="12"/><rect class="u" x="1148.4" y="-6" width="14.1" height="12"/><rect class="c" x="872.3" y="-9.5" width="3.2" height="19"/><rect class="c" x="885.7" y="-9.5" width="39.5" height="19"/><rect class="c" x="997.3" y="-9.5" width="8.9" height="19"/><rect class="c" x="1016.4" y="-9.5" width="20.4" height="19"/><rect class="c" x="1047.7" y="-9.5" width="8.3" height="19"/><rect class="c" x="1066.2" y="-9.5" width="82.2" height="19"/></g>
<g id="MiPG56-3" transform="translate(0,2061.9)"><text class="lf" x="686" y="10.5">MiPG56-3</text><line class="i" x1="832" x2="1236" y1="0" y2="0"/><rect class="u" x="832" y="-6" width="26.3" height="12"/><rect class="u" x="1220.5" y="-6" width="16" height="12"/><rect class="c" x="858.3" y="-9.5" width="3.8" height="19"/><rect class="c" x="877.4" y="-9.5" width="39.5" height="19"/><rect class="c" x="999.8" y="-9.5" width="13.4" height="19"/><rect class="c" x="1029.2" y="-9.5" width="23.6" height="19"/><rect class="c" x="1122.9" y="-9.5" width="5.1" height="19"/><rect class="c" x="1137.6" y="-9.5" width="82.9" height="19"/></g>
</g>

<g id="scale-axis">
<line x1="832.7" y1="2148" x2="2407" y2="2148" stroke="#7a7a7a" stroke-width="4"/>
<path d="M832.7 2138V2148M951.3 2138V2148M1069.9 2138V2148M1188.5 2138V2148M1307.1 2138V2148M1425.7 2138V2148M1544.3 2138V2148M1662.9 2138V2148M1781.5 2138V2148M1900.1 2138V2148M2018.7 2138V2148M2137.3 2138V2148M2255.9 2138V2148M2374.5 2138V2148" stroke="#555" stroke-width="2"/>
<text class="ax" x="836" y="2169">kb</text>
<text class="ax" x="942" y="2169">1kb</text>
<text class="ax" x="1061" y="2169">2kb</text>
<text class="ax" x="1179" y="2169">3kb</text>
<text class="ax" x="1298" y="2169">4kb</text>
<text class="ax" x="1417" y="2169">5kb</text>
<text class="ax" x="1535" y="2169">6kb</text>
<text class="ax" x="1654" y="2169">7kb</text>
<text class="ax" x="1772" y="2169">8kb</text>
<text class="ax" x="1891" y="2169">9kb</text>
<text class="ax" x="2010" y="2169">10kb</text>
<text class="ax" x="2129" y="2169">11kb</text>
<text class="ax" x="2247" y="2169">12kb</text>
<text class="ax" x="2366" y="2169">13kb</text>
<text class="ax" x="2419" y="2142">3'</text>
</g>

<g id="legend">
<text x="2043" y="2047" style="font-size:28px;fill:#222">Legend:</text>
<rect class="c" x="2044" y="2066.5" width="38" height="19.5"/>
<text class="lg" x="2091" y="2085">CDS</text>
<rect class="u" x="2178" y="2071" width="39" height="11"/>
<text class="lg" x="2226" y="2085">upstream/ downstream</text>
<line class="i" x1="2510" y1="2076.5" x2="2539" y2="2076.5"/>
<text class="lg" x="2549" y="2085">Intron</text>
</g>
</svg>
